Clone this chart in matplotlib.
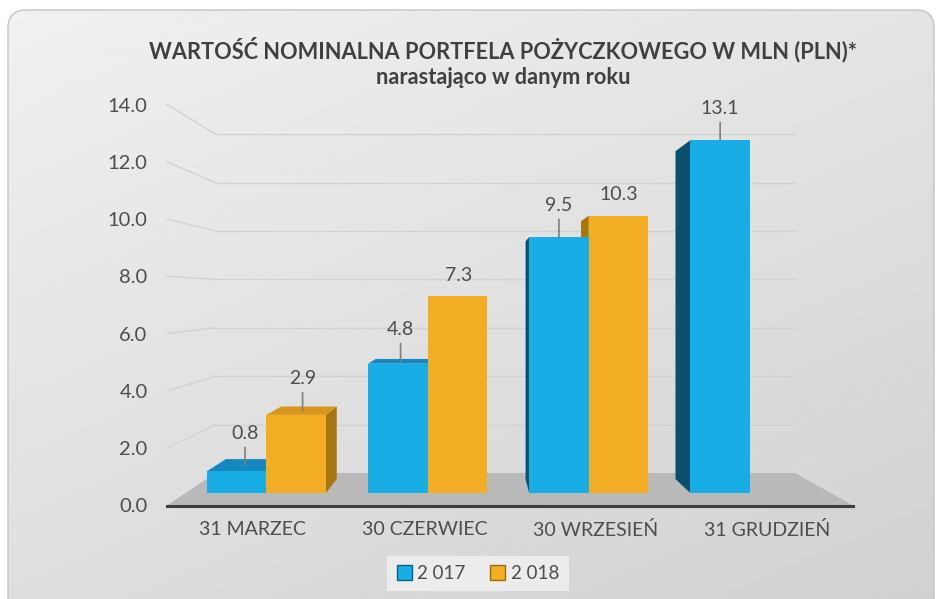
import numpy as np
import matplotlib
matplotlib.use("Agg")
import matplotlib.pyplot as plt
from matplotlib.patches import Polygon, FancyBboxPatch, Patch

plt.rcParams['font.family'] = ['Lato', 'DejaVu Sans']

# data
categories = ['31 MARZEC', '30 CZERWIEC', '30 WRZESIEŃ', '31 GRUDZIEŃ']
series_names = ['2 017', '2 018']
values_2017 = [0.8, 4.8, 9.5, 13.1]
values_2018 = [2.9, 7.3, 10.3, None]
y_ticks = [0, 2, 4, 6, 8, 10, 12, 14]
title_line1 = 'WARTOŚĆ NOMINALNA PORTFELA POŻYCZKOWEGO W MLN (PLN)*'
title_line2 = 'narastająco w danym roku'

W, H = 938, 599
TXT = '#4d4d4d'

# face colours: front, side, top
styles = [('#18ade5', '#0b4f6e', '#1488bf'),
          ('#f2ad24', '#a67710', '#d8961c')]

# fake 3d: everything is scaled toward a vanishing point (in data units)
VX, VY = 1.32, 7.31
S_BAR_FRONT, S_BAR_BACK, S_WALL = 0.94, 0.874, 0.845
BAR_W = 0.37


def proj(x, y, s):
    return VX + s * (x - VX), VY + s * (y - VY)


fig = plt.figure(figsize=(W / 100, H / 100), dpi=100)
fig.patch.set_facecolor('white')

# rounded grey gradient panel
bg = fig.add_axes([0, 0, 1, 1], zorder=0)
bg.set_xlim(0, W)
bg.set_ylim(H, 0)
bg.axis('off')
u = np.linspace(0, 1, 200)[None, :]
v = np.linspace(0, 1, 200)[:, None]
grad = 0.945 - 0.05 * u - 0.075 * v
img = bg.imshow(grad, cmap='gray', vmin=0, vmax=1, extent=[0, W, H, 0], aspect='auto')
panel = FancyBboxPatch((8, 10), 926, 640, boxstyle='round,pad=0,rounding_size=18',
                       facecolor='none', edgecolor='#c4c4c4', lw=1)
bg.add_patch(panel)
img.set_clip_path(panel)

ax = fig.add_axes([167 / W, 1 - 505.5 / H, 686 / W, 401 / H], zorder=1)
ax.patch.set_alpha(0)
ax.set_xlim(-0.5, 3.5)
ax.set_ylim(0, 14)

# floor
floor = [proj(-0.5, 0, 1), proj(3.5, 0, 1), proj(3.5, 0, S_WALL), proj(-0.5, 0, S_WALL)]
ax.add_patch(Polygon(floor, closed=True, facecolor='#b9b9b9', edgecolor='none', zorder=1, clip_on=False))

# back wall gridlines + diagonal links to the front scale
for k in y_ticks[1:]:
    x0, y0 = proj(-0.5, k, S_WALL)
    x1, y1 = proj(3.5, k, S_WALL)
    ax.plot([x0, x1], [y0, y1], color='#d2d2d2', lw=1, zorder=0.5, clip_on=False)
    fx, fy = proj(-0.5, k, 1)
    ax.plot([fx, x0], [fy, y0], color='#d2d2d2', lw=1, zorder=0.5, clip_on=False)

# collect bars
bars = []
for si, vals in enumerate([values_2017, values_2018]):
    for ci, h in enumerate(vals):
        if h is None:
            continue
        x0 = ci - BAR_W if si == 0 else ci
        x1 = x0 + BAR_W
        dist = abs((x0 + x1) / 2 - VX)
        bars.append((dist, si, ci, x0, x1, h))

bars.sort(key=lambda b: -b[0])
leaders = {(0, 0), (0, 1), (0, 2), (0, 3), (1, 0)}

for z, (dist, si, ci, x0, x1, h) in enumerate(bars):
    front, side, top = styles[si]
    zz = 2 + z * 0.1
    # side face
    if x1 < VX:
        xs = x1
    elif x0 > VX:
        xs = x0
    else:
        xs = None
    if xs is not None:
        pts = [proj(xs, 0, S_BAR_FRONT), proj(xs, h, S_BAR_FRONT),
               proj(xs, h, S_BAR_BACK), proj(xs, 0, S_BAR_BACK)]
        ax.add_patch(Polygon(pts, closed=True, facecolor=side, edgecolor='none', zorder=zz, clip_on=False))
    # top face (only below eye level)
    if h < VY:
        pts = [proj(x0, h, S_BAR_FRONT), proj(x1, h, S_BAR_FRONT),
               proj(x1, h, S_BAR_BACK), proj(x0, h, S_BAR_BACK)]
        ax.add_patch(Polygon(pts, closed=True, facecolor=top, edgecolor='none', zorder=zz + 0.01, clip_on=False))
    # front face
    lx, by = proj(x0, 0, S_BAR_FRONT)
    rx, ty = proj(x1, h, S_BAR_FRONT)
    ax.bar(lx, ty - by, width=rx - lx, bottom=by, align='edge', color=front,
           linewidth=0, zorder=zz + 0.02, clip_on=False)

    # value label
    xc = (x0 + x1) / 2
    if h < VY:
        anchor = proj(xc, h, (S_BAR_FRONT + S_BAR_BACK) / 2)
    else:
        anchor = proj(xc, h, S_BAR_FRONT)
    if (si, ci) in leaders:
        ax.annotate(f'{h:.1f}', xy=anchor, xytext=(0, 23), textcoords='offset points',
                    ha='center', va='center', fontsize=14, color=TXT, zorder=10,
                    arrowprops=dict(arrowstyle='-', color='#7f7f7f', lw=1.2, shrinkB=0))
    else:
        ax.annotate(f'{h:.1f}', xy=anchor, xytext=(0, 15), textcoords='offset points',
                    ha='center', va='center', fontsize=14, color=TXT, zorder=10)

# axes styling
for side_name in ['top', 'right', 'left']:
    ax.spines[side_name].set_visible(False)
ax.spines['bottom'].set_color('#3d3d3d')
ax.spines['bottom'].set_linewidth(2.2)
ax.spines['bottom'].set_zorder(1.5)
ax.set_yticks(y_ticks)
ax.set_yticklabels([f'{t:.1f}' for t in y_ticks])
ax.set_xticks(range(len(categories)))
ax.set_xticklabels(categories)
ax.tick_params(axis='y', length=0, pad=14, labelsize=14.5, colors=TXT)
ax.tick_params(axis='x', length=0, pad=11, labelsize=14, colors=TXT)

# title
fig.text(503 / W, 1 - 50 / H, title_line1, ha='center', va='center',
         fontsize=15.7, fontweight='bold', color='#404040')
fig.text(503 / W, 1 - 78 / H, title_line2, ha='center', va='center',
         fontsize=15.7, fontweight='bold', color='#404040')

# legend
handles = [Patch(facecolor=styles[0][0], edgecolor='#0b5f85'),
           Patch(facecolor=styles[1][0], edgecolor='#9c6a06')]
leg = fig.legend(handles, series_names, loc='center', bbox_to_anchor=(478 / W, 1 - 573.5 / H),
                 ncol=2, frameon=True, facecolor='#ececec', edgecolor='none', fancybox=False,
                 framealpha=1, handlelength=0.8, handleheight=0.8, handletextpad=0.3,
                 columnspacing=1.3, fontsize=13.5, borderpad=0.5, labelcolor=TXT)

fig.savefig('out.png', dpi=100)
